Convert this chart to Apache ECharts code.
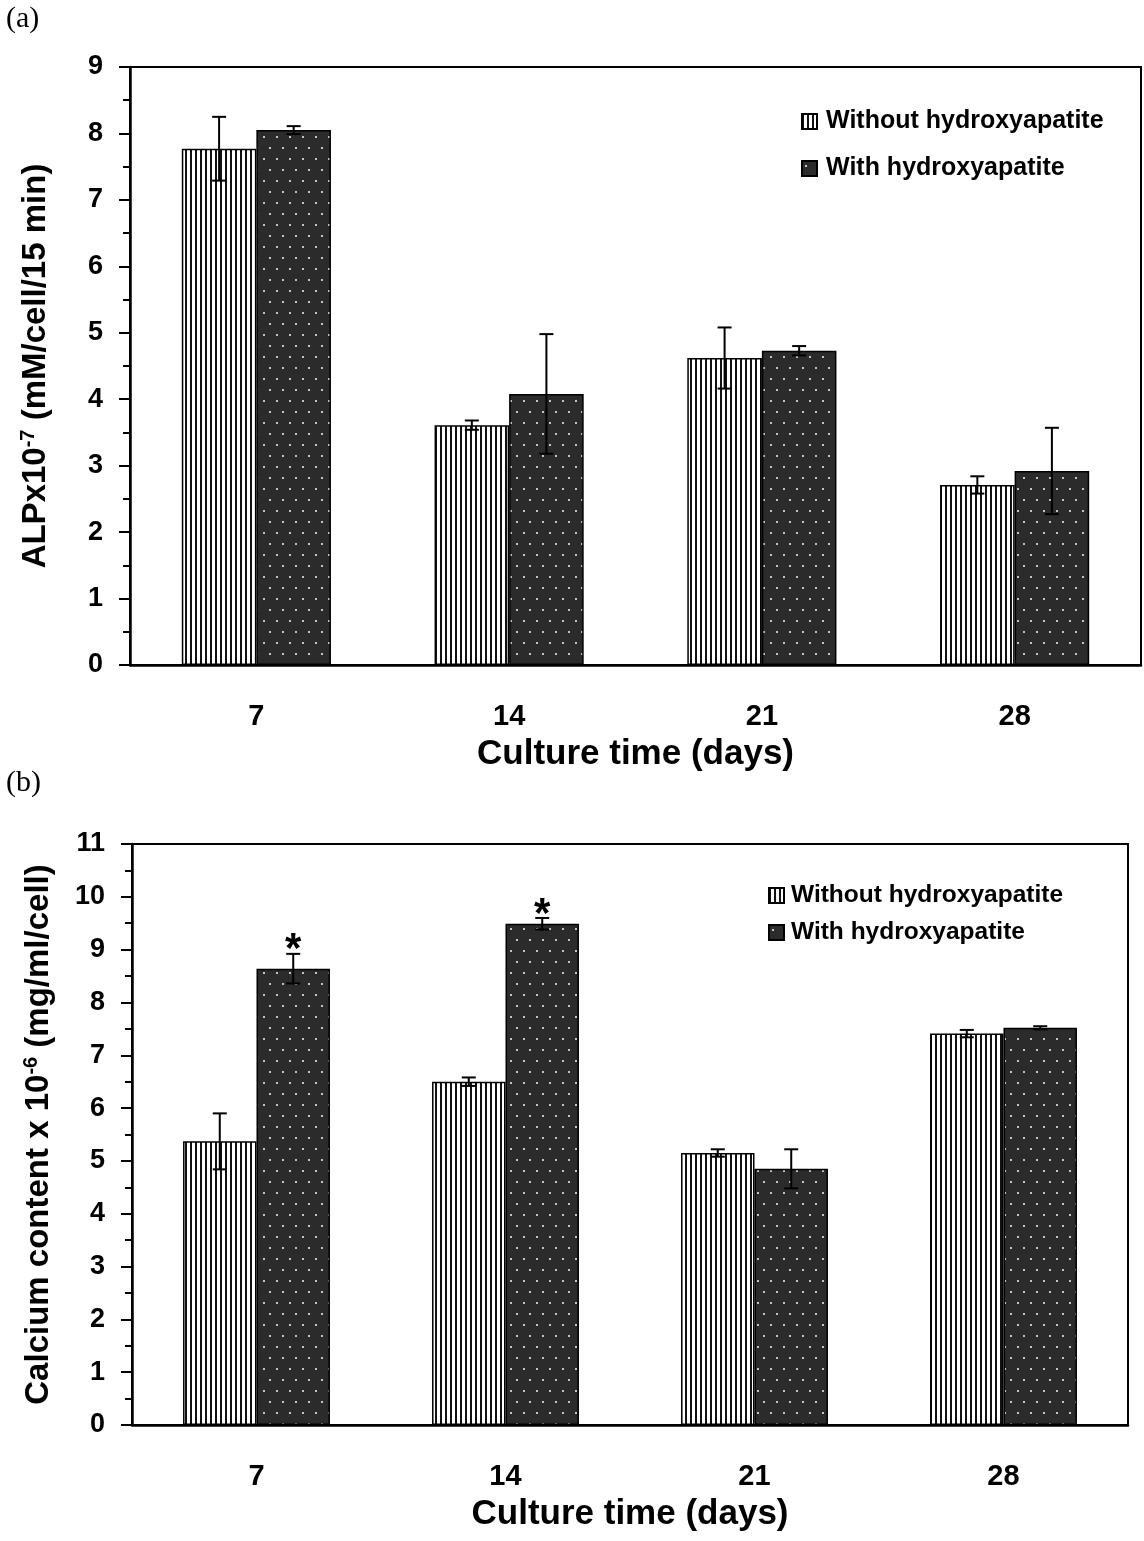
<!DOCTYPE html>
<html>
<head>
<meta charset="utf-8">
<script src="https://cdn.jsdelivr.net/npm/echarts@6/dist/echarts.min.js"></script>
<style>
html, body { margin: 0; padding: 0; background: #fff; }
#main { width: 1144px; height: 1541px; }
</style>
</head>
<body>
<div id="main"></div>
<script>
var days = ['7', '14', '21', '28'];
var names = ['Without hydroxyapatite', 'With hydroxyapatite'];

// (a) ALP activity
var alpWithout = [7.77, 3.61, 4.62, 2.71];
var alpWithoutErr = [0.48, 0.07, 0.46, 0.13];
var alpWith = [8.05, 4.08, 4.73, 2.92];
var alpWithErr = [0.06, 0.90, 0.07, 0.65];

// (b) calcium content
var caWithout = [5.37, 6.50, 5.15, 7.41];
var caWithoutErr = [0.53, 0.08, 0.07, 0.07];
var caWith = [8.64, 9.49, 4.85, 7.52];
var caWithErr = [0.28, 0.11, 0.37, 0.03];
var caMarks = ['*', '*', '', ''];

var FONT = '"Liberation Sans", Arial, sans-serif';
var BAR_FRAC = 0.295;

function stripes() {
  var c = document.createElement('canvas');
  c.width = 5; c.height = 10;
  var ctx = c.getContext('2d');
  ctx.fillStyle = '#fff';
  ctx.fillRect(0, 0, 5, 10);
  ctx.fillStyle = '#111';
  ctx.fillRect(0, 0, 2, 10);
  return c;
}

function dots() {
  var c = document.createElement('canvas');
  c.width = 13; c.height = 22;
  var ctx = c.getContext('2d');
  ctx.fillStyle = '#2b2b2b';
  ctx.fillRect(0, 0, 13, 22);
  ctx.fillStyle = '#c4c4c4';
  ctx.fillRect(3, 4, 2, 2);
  ctx.fillRect(9, 15, 2, 2);
  return c;
}

var stripeFill = { image: stripes(), repeat: 'repeat' };
var dotFill = { image: dots(), repeat: 'repeat' };

function bars(idx, name, vals, fill) {
  return {
    name: name,
    type: 'bar',
    xAxisIndex: idx,
    yAxisIndex: idx,
    data: vals,
    barWidth: (BAR_FRAC * 100) + '%',
    barGap: '0%',
    itemStyle: { color: fill, borderColor: '#000', borderWidth: 1.5 },
    z: 2
  };
}

function errBars(idx, vals, errs, side, marks) {
  return {
    type: 'custom',
    xAxisIndex: idx,
    yAxisIndex: idx,
    data: vals.map(function (v, i) { return [i, v, errs[i]]; }),
    z: 5,
    silent: true,
    renderItem: function (params, api) {
      var i = api.value(0), v = api.value(1), e = api.value(2);
      var c = api.coord([i, v]);
      var bw = api.size([1, 0])[0] * BAR_FRAC;
      var x = c[0] + side * bw / 2;
      var top = api.coord([i, v + e])[1];
      var bot = api.coord([i, v - e])[1];
      var st = { stroke: '#000', lineWidth: 2 };
      var kids = [
        { type: 'line', shape: { x1: x, y1: top, x2: x, y2: bot }, style: st },
        { type: 'line', shape: { x1: x - 7, y1: top, x2: x + 7, y2: top }, style: st },
        { type: 'line', shape: { x1: x - 7, y1: bot, x2: x + 7, y2: bot }, style: st }
      ];
      if (marks && marks[i]) {
        kids.push({
          type: 'text',
          style: {
            text: marks[i], x: x, y: top - 3,
            align: 'center', verticalAlign: 'middle',
            font: 'bold 42px ' + FONT, fill: '#000'
          }
        });
      }
      return { type: 'group', children: kids };
    }
  };
}

function yName(main, sup, rest) {
  return '{a|' + main + '}{s|' + sup + '}{a|' + rest + '}';
}

var yRich = {
  a: { fontSize: 33, fontWeight: 'bold', fontFamily: FONT, lineHeight: 36, color: '#000' },
  s: { fontSize: 20, fontWeight: 'bold', fontFamily: FONT, lineHeight: 20, verticalAlign: 'top', color: '#000' }
};

function xAxis(idx) {
  return {
    type: 'category',
    gridIndex: idx,
    data: days,
    name: 'Culture time (days)',
    nameLocation: 'middle',
    nameGap: 72,
    nameTextStyle: { fontSize: 35, fontWeight: 'bold', fontFamily: FONT, color: '#000' },
    axisLine: { lineStyle: { color: '#000', width: 2.5 } },
    axisTick: { length: 12, lineStyle: { color: '#000', width: 2 } },
    axisLabel: { margin: 37, fontSize: 29, fontWeight: 'bold', fontFamily: FONT, color: '#000' }
  };
}

function yAxis(idx, max, name, gap) {
  return {
    type: 'value',
    gridIndex: idx,
    min: 0, max: max, interval: 1,
    name: name,
    nameLocation: 'middle',
    nameRotate: 90,
    nameGap: gap,
    nameTextStyle: { rich: yRich },
    axisLine: { show: true, lineStyle: { color: '#000', width: 2.5 } },
    axisTick: { show: true, length: 11, lineStyle: { color: '#000', width: 2 } },
    minorTick: { show: true, splitNumber: 2, length: 7, lineStyle: { color: '#000', width: 2 } },
    splitLine: { show: false },
    axisLabel: { margin: 27, fontSize: 27, fontWeight: 'bold', fontFamily: FONT, color: '#000' }
  };
}

var chart = echarts.init(document.getElementById('main'));
var option = {
  backgroundColor: '#fff',
  animation: false,
  graphic: [
    { type: 'text', left: 6, top: 4, style: { text: '(a)', font: '30px "Liberation Serif", "DejaVu Serif", serif', fill: '#000' } },
    { type: 'text', left: 6, top: 768, style: { text: '(b)', font: '30px "Liberation Serif", "DejaVu Serif", serif', fill: '#000' } }
  ],
  legend: [
    {
      orient: 'vertical', left: 796, top: 104, itemGap: 22, itemWidth: 15, itemHeight: 15,
      icon: 'rect',
      data: names,
      textStyle: { fontSize: 25, fontWeight: 'bold', fontFamily: FONT, color: '#000', padding: [0, 0, 0, 4] }
    },
    {
      orient: 'vertical', left: 763, top: 878, itemGap: 12, itemWidth: 15, itemHeight: 15,
      icon: 'rect',
      data: names,
      textStyle: { fontSize: 24.5, fontWeight: 'bold', fontFamily: FONT, color: '#000', padding: [0, 0, 0, 2] }
    }
  ],
  grid: [
    { left: 130, top: 67, width: 1011, height: 598, show: true, borderColor: '#000', borderWidth: 2 },
    { left: 132, top: 844, width: 996, height: 581, show: true, borderColor: '#000', borderWidth: 2 }
  ],
  xAxis: [xAxis(0), xAxis(1)],
  yAxis: [
    yAxis(0, 9, yName('ALPx10', '-7', ' (mM/cell/15 min)'), 76),
    yAxis(1, 11, yName('Calcium content x 10', '-6', ' (mg/ml/cell)'), 75)
  ],
  series: [
    bars(0, names[0], alpWithout, stripeFill),
    bars(0, names[1], alpWith, dotFill),
    errBars(0, alpWithout, alpWithoutErr, -1),
    errBars(0, alpWith, alpWithErr, 1),
    bars(1, names[0], caWithout, stripeFill),
    bars(1, names[1], caWith, dotFill),
    errBars(1, caWithout, caWithoutErr, -1),
    errBars(1, caWith, caWithErr, 1, caMarks)
  ]
};
chart.setOption(option);
</script>
</body>
</html>
